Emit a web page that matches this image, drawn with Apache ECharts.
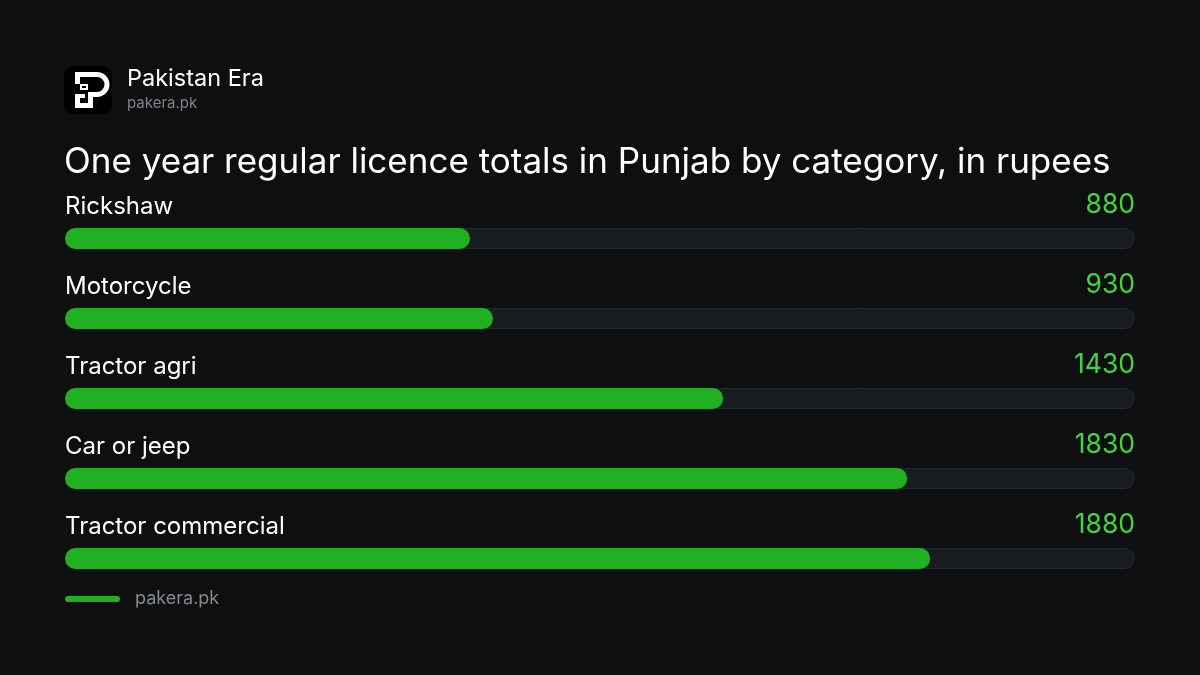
<!DOCTYPE html>
<html>
<head>
<meta charset="utf-8">
<style>
  html, body { margin: 0; padding: 0; background: #0d0f11; }
  #chart { width: 1200px; height: 675px; }
</style>
<script src="https://cdn.jsdelivr.net/npm/echarts@6/dist/echarts.min.js"></script>
</head>
<body>
<div id="chart"></div>
<script>
const categories = ['Rickshaw', 'Motorcycle', 'Tractor agri', 'Car or jeep', 'Tractor commercial'];
const values = [880, 930, 1430, 1830, 1880];
const scaleMax = 2325;

const FONT = 'Inter, "Noto Sans", sans-serif';
const trackData = categories.map(() => scaleMax);

const chart = echarts.init(document.getElementById('chart'), null, { renderer: 'canvas' });

const W = '#ffffff';
const logo = [
  { type: 'rect', shape: { x: 64, y: 66, width: 48, height: 48, r: 9 }, style: { fill: '#000000' } },
  { type: 'rect', shape: { x: 75, y: 72, width: 22, height: 5 }, style: { fill: W } },
  { type: 'arc', shape: { cx: 97, cy: 84.5, r: 10, startAngle: -Math.PI / 2, endAngle: Math.PI / 2, clockwise: true }, style: { stroke: W, lineWidth: 5, fill: null } },
  { type: 'rect', shape: { x: 88, y: 92, width: 9, height: 5 }, style: { fill: W } },
  { type: 'rect', shape: { x: 75, y: 72, width: 5, height: 12 }, style: { fill: W } },
  { type: 'rect', shape: { x: 80, y: 84, width: 8, height: 6 }, style: { fill: W } },
  { type: 'rect', shape: { x: 82, y: 86, width: 4, height: 2 }, style: { fill: '#000000' } },
  { type: 'rect', shape: { x: 88, y: 92, width: 5, height: 16 }, style: { fill: W } },
  { type: 'rect', shape: { x: 75, y: 103, width: 18, height: 5 }, style: { fill: W } },
  { type: 'rect', shape: { x: 75, y: 94, width: 5, height: 14 }, style: { fill: W } },
  { type: 'rect', shape: { x: 80, y: 94, width: 5, height: 4 }, style: { fill: W } }
];

const option = {
  backgroundColor: '#0d0f11',
  animation: false,
  grid: { left: 65, right: 65, top: 198.5, height: 400, containLabel: false },
  xAxis: { type: 'value', min: 0, max: scaleMax, show: false },
  yAxis: { type: 'category', data: categories, inverse: true, show: false },
  graphic: logo.concat([
    { type: 'text', left: 127, top: 67, style: { text: 'Pakistan Era', fill: '#ffffff', font: '400 23.5px ' + FONT } },
    { type: 'text', left: 127, top: 96, style: { text: 'pakera.pk', fill: '#7e8389', font: '400 15px ' + FONT } },
    { type: 'text', left: 64, top: 145, style: { text: 'One year regular licence totals in Punjab by category, in rupees', fill: '#ffffff', font: '400 35px ' + FONT } },
    { type: 'rect', shape: { x: 65, y: 596, width: 55, height: 6, r: 3 }, style: { fill: '#22b022' } },
    { type: 'text', left: 135, top: 590, style: { text: 'pakera.pk', fill: '#868b90', font: '400 18px ' + FONT } }
  ]),
  series: [
    {
      name: 'track', type: 'bar', data: trackData, barWidth: 21, z: 1,
      itemStyle: { color: '#1a1d20', borderColor: '#25292d', borderWidth: 1, borderRadius: 10.5 },
      label: {
        show: true, position: [0, -9], align: 'left', verticalAlign: 'bottom',
        formatter: p => p.name, color: '#ffffff', fontFamily: FONT, fontSize: 24, fontWeight: 400
      },
      silent: true
    },
    {
      name: 'value', type: 'bar', data: values, barWidth: 21, barGap: '-100%', z: 2,
      itemStyle: { color: '#22b022', borderRadius: 10.5 },
      label: { show: false },
      silent: true
    },
    {
      name: 'valueLabel', type: 'bar', data: trackData, barWidth: 21, barGap: '-100%', z: 3,
      itemStyle: { color: 'rgba(0,0,0,0)' },
      label: {
        show: true, position: ['100%', -9], align: 'right', verticalAlign: 'bottom',
        formatter: p => String(values[p.dataIndex]), color: '#43d343', fontFamily: FONT, fontSize: 26.5, fontWeight: 400
      },
      silent: true
    }
  ]
};

chart.setOption(option);
</script>
</body>
</html>
